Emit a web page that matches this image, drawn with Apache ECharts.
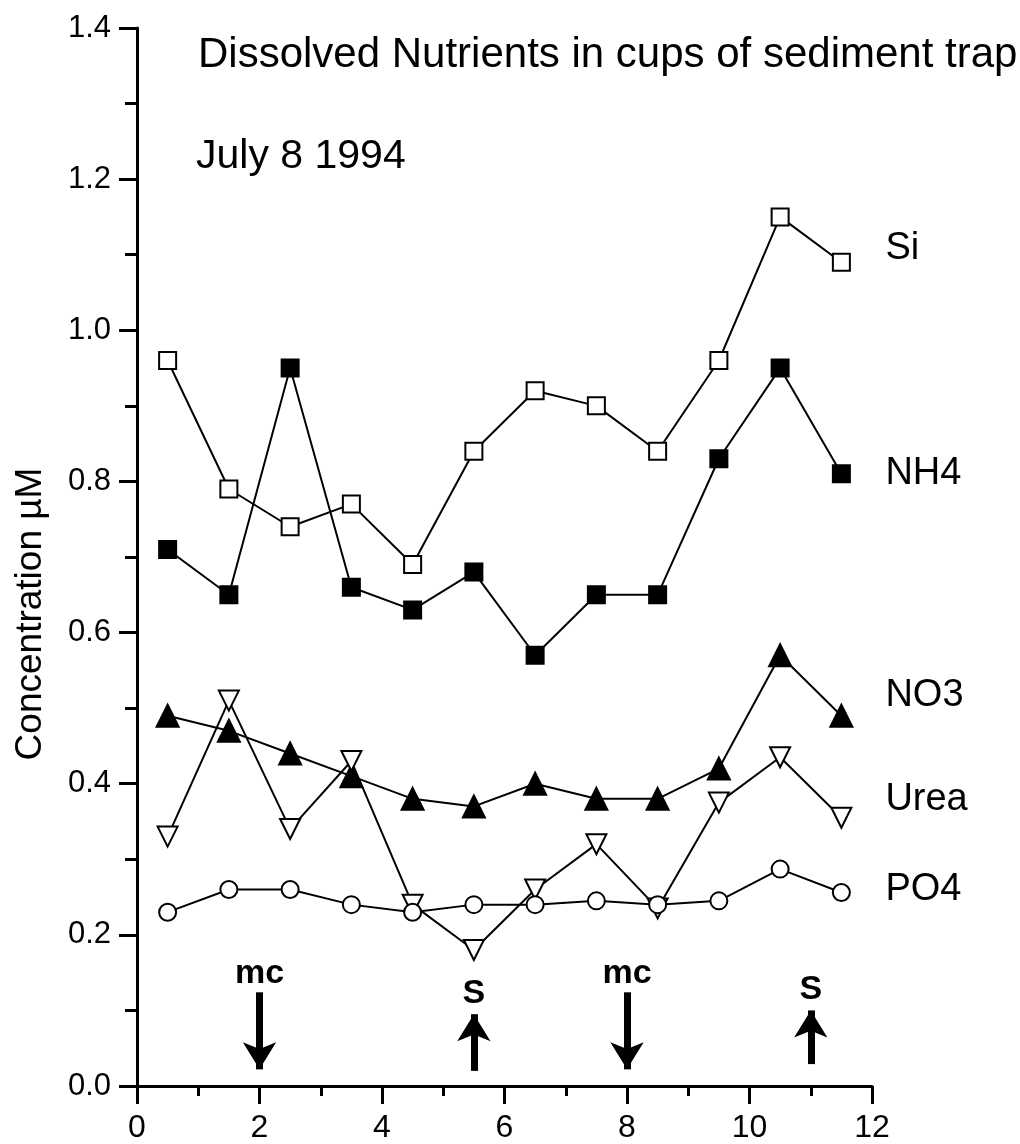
<!DOCTYPE html>
<html lang="en">
<head>
    <meta charset="UTF-8">
    <title>Dissolved Nutrients</title>
    <style>
        * { margin: 0; padding: 0; }
        body { background: #fff; }
        #myEcharts { width: 1020px; height: 1144px; }
    </style>
</head>
<body>
    <div id="myEcharts"></div>
    <script src="https://cdn.jsdelivr.net/npm/echarts@6/dist/echarts.min.js"></script>
    <script>
        // cup positions (x) and concentrations (uM)
        var cups = [0.5, 1.5, 2.5, 3.5, 4.5, 5.5, 6.5, 7.5, 8.5, 9.5, 10.5, 11.5];
        var si   = [0.96, 0.79, 0.74, 0.77, 0.69, 0.84, 0.92, 0.90, 0.84, 0.96, 1.15, 1.09];
        var nh4  = [0.71, 0.65, 0.95, 0.66, 0.63, 0.68, 0.57, 0.65, 0.65, 0.83, 0.95, 0.81];
        var no3  = [0.49, 0.47, 0.44, 0.41, 0.38, 0.37, 0.40, 0.38, 0.38, 0.42, 0.57, 0.49];
        var urea = [0.33, 0.51, 0.34, 0.43, 0.24, 0.18, 0.26, 0.32, 0.235, 0.375, 0.435, 0.355];
        var po4  = [0.23, 0.26, 0.26, 0.24, 0.23, 0.24, 0.24, 0.245, 0.24, 0.245, 0.287, 0.256];

        // event markers: mc = down arrow, S = up arrow
        var mcX = [2, 8];
        var sX = [5.5, 11];

        var font = 'Liberation Sans, Arial, Helvetica, sans-serif';

        function pairs(vals) {
            return cups.map(function (x, i) { return [x, vals[i]]; });
        }

        function makeSeries(name, vals, symbol, filled, size, rotate, labelOffset) {
            return {
                name: name,
                type: 'line',
                data: pairs(vals),
                symbol: symbol,
                symbolSize: size,
                symbolRotate: rotate || 0,
                showAllSymbol: true,
                lineStyle: { color: '#000', width: 2 },
                itemStyle: {
                    color: filled ? '#000' : '#fff',
                    borderColor: '#000',
                    borderWidth: 2
                },
                endLabel: {
                    show: true,
                    formatter: name,
                    color: '#000',
                    fontSize: 38,
                    fontFamily: font,
                    distance: 44,
                    offset: labelOffset
                },
                z: 3
            };
        }

        var arrowLines = [];
        mcX.forEach(function (x) {
            arrowLines.push([
                { coord: [x, 0.124], label: { formatter: 'mc', position: 'start', distance: 2 } },
                { coord: [x, 0.022] }
            ]);
        });
        sX.forEach(function (x) {
            arrowLines.push([
                { coord: [x, x === 11 ? 0.029 : 0.02] },
                { coord: [x, x === 11 ? 0.1 : 0.095], label: { formatter: 'S', position: 'end', distance: 4 } }
            ]);
        });

        var chart = echarts.init(document.getElementById('myEcharts'));
        var option = {
            backgroundColor: '#fff',
            animation: false,
            title: [
                {
                    text: 'Dissolved Nutrients in cups of sediment trap',
                    left: 193, top: 29,
                    textStyle: { fontSize: 42, fontWeight: 'normal', color: '#000', fontFamily: font }
                },
                {
                    text: 'July 8 1994',
                    left: 191, top: 131,
                    textStyle: { fontSize: 41, fontWeight: 'normal', color: '#000', fontFamily: font }
                }
            ],
            grid: { left: 137, right: 148, top: 28, bottom: 57 },
            xAxis: {
                type: 'value',
                min: 0, max: 12, interval: 2,
                axisLine: { lineStyle: { color: '#000', width: 3 } },
                axisTick: { show: true, inside: false, length: 18, lineStyle: { color: '#000', width: 3 } },
                minorTick: { show: true, splitNumber: 2, length: 10, lineStyle: { color: '#000', width: 3 } },
                axisLabel: {
                    color: '#000', fontSize: 32, fontFamily: font, margin: 26
                },
                splitLine: { show: false }
            },
            yAxis: {
                type: 'value',
                min: 0, max: 1.4, interval: 0.2,
                name: 'Concentration \u00b5M',
                nameLocation: 'middle',
                nameRotate: 90,
                nameGap: 88,
                nameTextStyle: { color: '#000', fontSize: 37, fontFamily: font, padding: [0, 114, 0, 0] },
                axisLine: { show: true, lineStyle: { color: '#000', width: 3 } },
                axisTick: { show: true, inside: false, length: 18, lineStyle: { color: '#000', width: 3 } },
                minorTick: { show: true, splitNumber: 2, length: 12, lineStyle: { color: '#000', width: 3 } },
                axisLabel: {
                    color: '#000', fontSize: 31, fontFamily: font, margin: 26,
                    formatter: function (v) { return v.toFixed(1); }
                },
                splitLine: { show: false }
            },
            series: [
                makeSeries('Si', si, 'rect', false, 17, 0, [0, -14]),
                makeSeries('NH4', nh4, 'rect', true, 17, 0, [0, 0]),
                makeSeries('NO3', no3, 'triangle', true, 22, 0, [0, -20]),
                makeSeries('Urea', urea, 'triangle', false, 20, 180, [0, -18]),
                makeSeries('PO4', po4, 'circle', false, 17, 0, [0, -3]),
                {
                    name: 'events',
                    type: 'line',
                    data: [],
                    markLine: {
                        silent: true,
                        symbol: ['none', 'arrow'],
                        symbolSize: [25, 27],
                        lineStyle: { color: '#000', width: 7, type: 'solid' },
                        label: {
                            color: '#000', fontSize: 34, fontWeight: 'bold', fontFamily: font
                        },
                        data: arrowLines
                    }
                }
            ]
        };
        chart.setOption(option);
    </script>
</body>
</html>
